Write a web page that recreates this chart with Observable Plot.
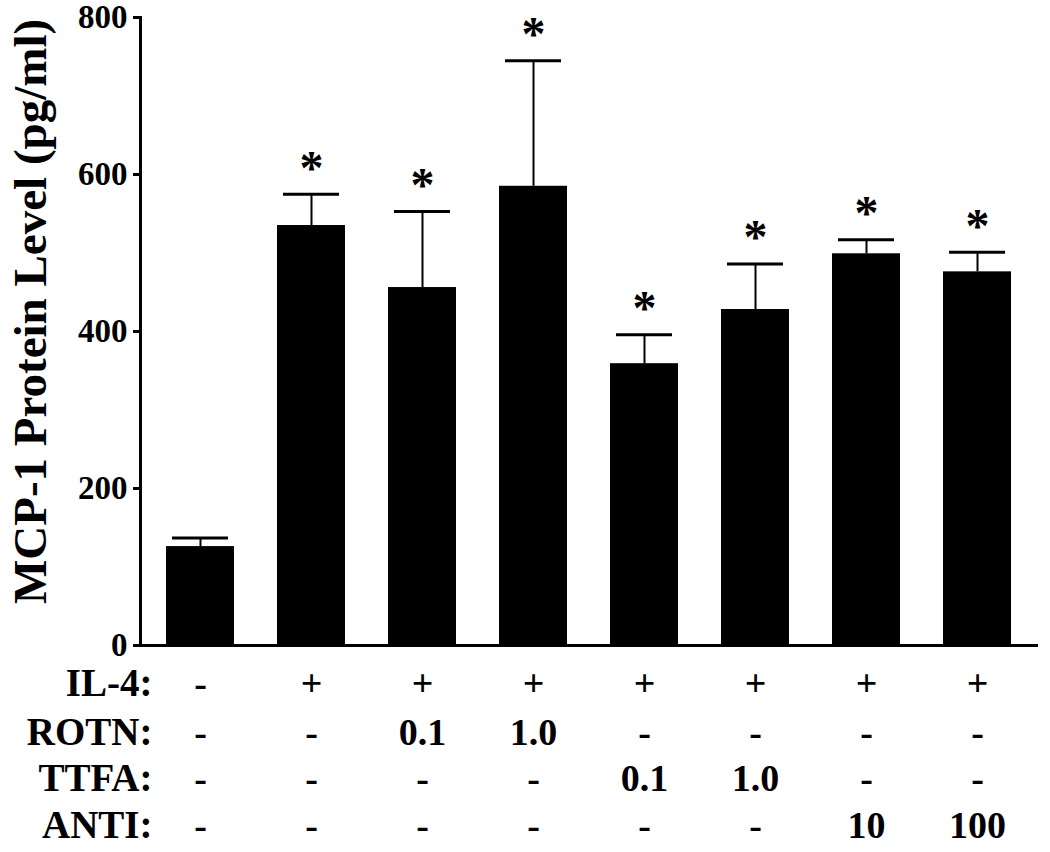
<!DOCTYPE html>
<html>
<head>
<meta charset="utf-8">
<script src="https://cdn.jsdelivr.net/npm/d3@7"></script>
<script src="https://cdn.jsdelivr.net/npm/@observablehq/plot@0.6"></script>
<style>
  html, body { margin: 0; padding: 0; background: #fff; }
</style>
</head>
<body>
<div id="chart"></div>
<script>
// Data
const groups = ["Control", "IL-4", "ROTN 0.1", "ROTN 1.0", "TTFA 0.1", "TTFA 1.0", "ANTI 10", "ANTI 100"];
const means  = [126, 535, 456, 585, 359, 428, 499, 476];
const errors = [11, 40, 97, 160, 37, 58, 18, 25];
const significant = [false, true, true, true, true, true, true, true];
const yTicks = [0, 200, 400, 600, 800];

const rowLabels = ["IL-4:", "ROTN:", "TTFA:", "ANTI:"];
const il4Row  = ["-", "+", "+", "+", "+", "+", "+", "+"];
const rotnRow = ["-", "-", "0.1", "1.0", "-", "-", "-", "-"];
const ttfaRow = ["-", "-", "-", "-", "0.1", "1.0", "-", "-"];
const antiRow = ["-", "-", "-", "-", "-", "-", "10", "100"];
const yLabel = "MCP-1 Protein Level (pg/ml)";

const data = groups.map((g, i) => ({group: g, mean: means[i], top: means[i] + errors[i], sig: significant[i]}));
const rows = [il4Row, rotnRow, ttfaRow, antiRow];
const rowOffsets = [38, 87, 133, 180];

const tableMarks = [];
rows.forEach((row, r) => {
  const rd = groups.map((g, i) => ({group: g, v: row[i]}));
  tableMarks.push(Plot.text(rd, {x: "group", text: "v", frameAnchor: "bottom", dy: rowOffsets[r], fontSize: 38, lineAnchor: "middle"}));
  tableMarks.push(Plot.text([rowLabels[r]], {text: d => d, frameAnchor: "bottom-left", dx: 12, dy: rowOffsets[r], fontSize: 39, textAnchor: "end", lineAnchor: "middle"}));
});

const chart = Plot.plot({
  width: 1050,
  height: 852,
  marginLeft: 140,
  marginRight: 12,
  marginTop: 17,
  marginBottom: 207,
  style: {fontFamily: "'Liberation Serif', 'Times New Roman', serif", fontWeight: "bold", color: "#000", background: "#fff"},
  x: {domain: groups, paddingInner: 0.383, paddingOuter: 0.206, axis: null},
  y: {domain: [0, 800], axis: null},
  marks: [
    Plot.barY(data, {x: "group", y: "mean", fill: "#000"}),
    Plot.ruleX(data, {x: "group", y1: "mean", y2: "top", stroke: "#000", strokeWidth: 2}),
    Plot.tickY(data, {x: "group", y: "top", stroke: "#000", strokeWidth: 3, insetLeft: 6, insetRight: 6}),
    Plot.text(data.filter(d => d.sig), {x: "group", y: "top", text: () => "*", dy: -26, fontSize: 48, lineAnchor: "middle"}),
    Plot.axisY({ticks: yTicks, tickSize: 7, tickPadding: 6, fontSize: 33, strokeWidth: 3, label: null, tickFormat: d => String(d)}),
    Plot.frame({anchor: "left", stroke: "#000", strokeWidth: 3}),
    Plot.ruleY([0], {stroke: "#000", strokeWidth: 3}),
    Plot.text([yLabel], {text: d => d, frameAnchor: "left", rotate: -90, dx: -110, dy: -20, fontSize: 47, textAnchor: "middle", lineAnchor: "middle"}),
    ...tableMarks
  ]
});
document.getElementById("chart").appendChild(chart);
</script>
</body>
</html>
